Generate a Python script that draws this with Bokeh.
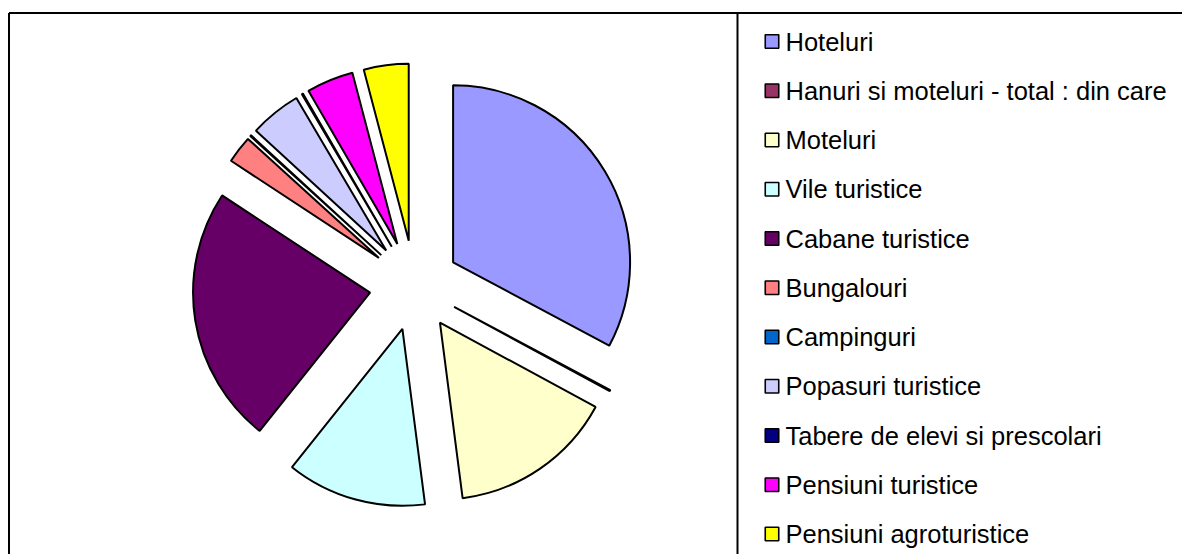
import numpy as np
from bokeh.plotting import figure
from bokeh.models import Range1d, ColumnDataSource
from bokeh.core.properties import value
from bokeh.embed import file_html
from bokeh.resources import INLINE

# ---- data -------------------------------------------------------------
categories = [
    "Hoteluri",
    "Hanuri si moteluri - total : din care",
    "Moteluri",
    "Vile turistice",
    "Cabane turistice",
    "Bungalouri",
    "Campinguri",
    "Popasuri turistice",
    "Tabere de elevi si prescolari",
    "Pensiuni turistice",
    "Pensiuni agroturistice",
]
shares = [32.9, 0.1, 15.1, 12.8, 23.6, 2.5, 0.1, 4.7, 0.1, 4.3, 4.1]
colors = ["#9999FF", "#993366", "#FFFFCC", "#CCFFFF", "#660066", "#FF8080",
          "#0066CC", "#CCCCFF", "#000080", "#FF00FF", "#FFFF00"]

# ---- layout -------------------------------------------------------------
W, H = 1182, 554
CX, CY = 414, 285                  # pie centre (page px)
R = 177                            # radius
EXPLODE = 45                       # explosion distance
FRAME_X = 8.5
SEP_X = 737
TOP_Y = 12.5
LEG_SQ_X = 771.5
LEG_TX_X = 785
LEG_Y0 = 41.0
LEG_DY = 49.25

p = figure(width=W, height=H,
           x_range=Range1d(0, W), y_range=Range1d(-H, 0),
           output_backend="svg", toolbar_location=None, min_border=0,
           x_axis_location=None, y_axis_location=None)
p.grid.visible = False
p.outline_line_color = None
p.background_fill_color = "white"
p.border_fill_color = "white"

# ---- pie ---------------------------------------------------------------
vals = np.array(shares, dtype=float)
frac = vals / vals.sum()
ends = np.cumsum(frac) * 2 * np.pi          # clockwise from 12 o'clock
starts = ends - frac * 2 * np.pi
mids = (starts + ends) / 2
xs = CX + EXPLODE * np.sin(mids)
ys = -CY + EXPLODE * np.cos(mids)

src = ColumnDataSource(dict(
    x=xs, y=ys,
    start=np.pi / 2 - starts, end=np.pi / 2 - ends,
    color=colors, name=categories,
))
p.wedge(x="x", y="y", radius=R, start_angle="start", end_angle="end",
        direction="clock", fill_color="color", line_color="black",
        line_width=2, source=src)

# ---- frame -------------------------------------------------------------
p.segment(x0=[FRAME_X, FRAME_X, SEP_X], y0=[-TOP_Y, -TOP_Y, -TOP_Y],
          x1=[W + 20, FRAME_X, SEP_X], y1=[-TOP_Y, -(H + 20), -(H + 20)],
          line_color="black", line_width=2)

# ---- legend ------------------------------------------------------------
n = len(categories)
ly = -(LEG_Y0 + LEG_DY * np.arange(n))
leg = ColumnDataSource(dict(x=[LEG_SQ_X] * n, tx=[LEG_TX_X] * n, y=ly,
                            color=colors, name=categories))
p.rect(x="x", y="y", width=13.5, height=13.5, fill_color="color",
       line_color="black", line_width=1.6, source=leg)
p.text(x="tx", y="y", text="name", source=leg,
       text_font=value("Liberation Sans"), text_font_size="25.5px",
       text_baseline="middle", text_align="left", text_color="black")

open("out.html", "w").write(file_html(p, INLINE))
